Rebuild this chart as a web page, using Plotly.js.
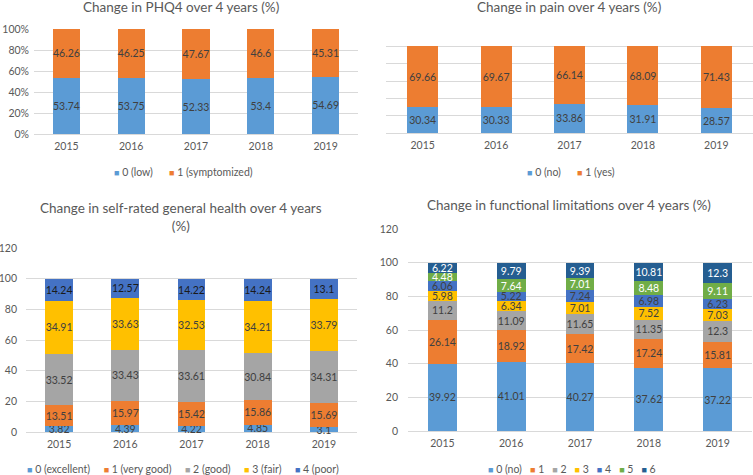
<!DOCTYPE html>
<html><head><meta charset="utf-8">
<script src="https://cdn.plot.ly/plotly-3.0.1.min.js"></script>
<style>html,body{margin:0;padding:0;background:#fff}#c{width:753px;height:475px}</style>
</head><body><div id="c"></div>
<script>
const years = ['2015','2016','2017','2018','2019'];

// PHQ4
const phqNames = ['0 (low)','1 (symptomized)'];
const phqLow = [53.74,53.75,52.33,53.4,54.69];
const phqSym = [46.26,46.25,47.67,46.6,45.31];

// Pain
const painNames = ['0 (no)','1 (yes)'];
const painNo = [30.34,30.33,33.86,31.91,28.57];
const painYes = [69.66,69.67,66.14,68.09,71.43];

// Self-rated health
const srhNames = ['0 (excellent)','1 (very good)','2 (good)','3 (fair)','4 (poor)'];
const srh0 = [3.82,4.39,4.22,4.85,3.1];
const srh1 = [13.51,15.97,15.42,15.86,15.69];
const srh2 = [33.52,33.43,33.61,30.84,34.31];
const srh3 = [34.91,33.63,32.53,34.21,33.79];
const srh4 = [14.24,12.57,14.22,14.24,13.1];

// Functional limitations
const flNames = ['0 (no)','1','2','3','4','5','6'];
const fl0 = [39.92,41.01,40.27,37.62,37.22];
const fl1 = [26.14,18.92,17.42,17.24,15.81];
const fl2 = [11.2,11.09,11.65,11.35,12.3];
const fl3 = [5.98,6.34,7.01,7.52,7.03];
const fl4 = [6.06,5.22,7.24,6.98,6.23];
const fl5 = [4.48,7.64,7.01,8.48,9.11];
const fl6 = [6.22,9.79,9.39,10.81,12.3];

const C = ['#5B9BD5','#ED7D31','#A5A5A5','#FFC000','#4472C4','#70AD47','#255E91'];
const FONT = 'Lato, "Liberation Sans", sans-serif';
const DARK = '#404040';

function bar(name, y, color, xa, ya, tcol){
  return {type:'bar', name:name, x:years, y:y, xaxis:xa, yaxis:ya, showlegend:false,
    marker:{color:color}, text:y.map(v=>String(v)), textposition:'inside',
    insidetextanchor:'middle', textangle:0, constraintext:'none',
    textfont:{family:FONT, size:10.5, color:tcol||DARK}, hoverinfo:'skip', cliponaxis:false};
}

const traces = [
  bar(phqNames[0], phqLow, C[0], 'x','y'),
  bar(phqNames[1], phqSym, C[1], 'x','y'),
  bar(painNames[0], painNo, C[0], 'x2','y2'),
  bar(painNames[1], painYes, C[1], 'x2','y2'),
  bar(srhNames[0], srh0, C[0], 'x3','y3'),
  bar(srhNames[1], srh1, C[1], 'x3','y3'),
  bar(srhNames[2], srh2, C[2], 'x3','y3'),
  bar(srhNames[3], srh3, C[3], 'x3','y3'),
  bar(srhNames[4], srh4, C[4], 'x3','y3', '#1a1a1a'),
  bar(flNames[0], fl0, C[0], 'x4','y4'),
  bar(flNames[1], fl1, C[1], 'x4','y4'),
  bar(flNames[2], fl2, C[2], 'x4','y4'),
  bar(flNames[3], fl3, C[3], 'x4','y4'),
  bar(flNames[4], fl4, C[4], 'x4','y4'),
  bar(flNames[5], fl5, C[5], 'x4','y4', '#ffffff'),
  bar(flNames[6], fl6, C[6], 'x4','y4', '#ffffff')
];

const W = 753, H = 475;
const px = v => v/W, py = v => 1 - v/H;
const GRID = '#D9D9D9';
const tickf = {family:FONT, size:10.5, color:'#595959'};

function xax(l, r, anchor){
  return {domain:[px(l), px(r)], anchor:anchor, type:'category', showgrid:false, zeroline:false,
    showline:false, ticks:'', tickfont:tickf, ticklabelstandoff:4, fixedrange:true};
}
function yax(bottom, top, anchor, range, dtick, show, suffix, standoff){
  return {domain:[py(bottom), py(top)], anchor:anchor, range:range, dtick:dtick, showgrid:true,
    gridcolor:GRID, gridwidth:1, zeroline:true, zerolinecolor:GRID, zerolinewidth:1, showline:false,
    ticks:'', showticklabels:show, ticksuffix:suffix||'', tickfont:tickf, ticklabelstandoff:standoff, fixedrange:true};
}

const titleFont = {family:FONT, size:13.5, color:'#595959'};
function ttl(text, x, y){
  return {text:text, x:px(x), y:py(y), xref:'paper', yref:'paper', xanchor:'center', yanchor:'middle',
    showarrow:false, font:titleFont};
}
// legend drawn as a text annotation built from the series names and colours
function leg(names, colors, x, y, gap){
  const sep = '\u00A0'.repeat(gap);
  const txt = names.map((n,i)=>'<span style="color:'+colors[i]+';font-size:9px">\u25A0</span> '+n).join(sep);
  return {text:txt, x:px(x), y:py(y), xref:'paper', yref:'paper', xanchor:'center', yanchor:'middle',
    showarrow:false, font:{family:FONT, size:10.5, color:'#595959'}};
}

const layout = {
  width:W, height:H, margin:{l:0,r:0,t:0,b:0}, paper_bgcolor:'#fff', plot_bgcolor:'rgba(0,0,0,0)',
  barmode:'stack', bargap:0.58, showlegend:false,
  uniformtext:{mode:'show', minsize:10.5},
  font:{family:FONT, color:'#595959'},
  xaxis: xax(34, 358, 'y'),
  yaxis: yax(134, 29, 'x', [0,100], 20, true, '%', 4),
  xaxis2: xax(386, 753, 'y2'),
  yaxis2: yax(133, 29, 'x2', [0,120], 20, false, '', 9),
  xaxis3: xax(26, 357, 'y3'),
  yaxis3: yax(432, 248, 'x3', [0,120], 20, true, '', 8),
  xaxis4: xax(408, 752, 'y4'),
  yaxis4: yax(431, 229, 'x4', [0,120], 20, true, '', 9),
  annotations:[
    ttl('Change in PHQ4 over 4 years (%)', 181, 7),
    ttl('Change in pain over 4 years (%)', 569, 7),
    ttl('Change in self-rated general health over 4 years<br>(%)', 181, 216.5),
    ttl('Change in functional limitations over 4 years (%)', 569, 205),
    leg(phqNames, C, 183, 172, 6),
    leg(painNames, C, 571, 172, 6),
    leg(srhNames, C, 183, 469, 5),
    leg(flNames, C, 572, 469, 3)
  ]
};

Plotly.newPlot('c', traces, layout, {displayModeBar:false, staticPlot:true});
</script></body></html>
